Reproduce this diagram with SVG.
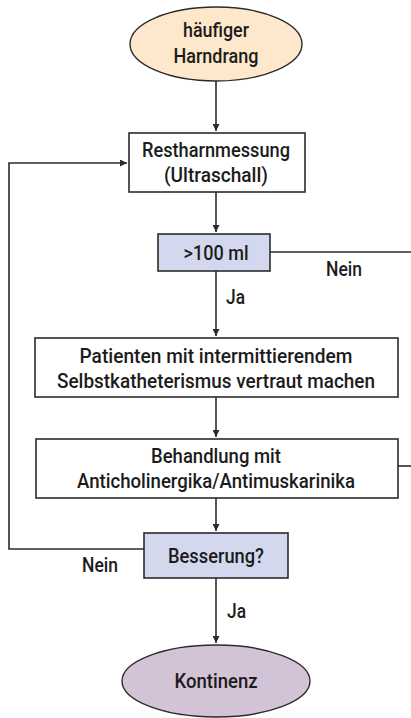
<svg xmlns="http://www.w3.org/2000/svg" width="411" height="718" viewBox="0 0 411 718">
<defs>
<style>
.box{fill:#fff;stroke:#2b2b2b;stroke-width:1.6}
.dec{fill:#d4d8ef;stroke:#2b2b2b;stroke-width:1.6}
.start{fill:#fde8cb;stroke:#2b2b2b;stroke-width:1.4}
.end{fill:#d3c3d6;stroke:#2b2b2b;stroke-width:1.4}
.ln{fill:none;stroke:#2b2b2b;stroke-width:1.6}
text{font-family:Roboto,"Liberation Sans",sans-serif;font-weight:500;font-size:20.5px;fill:#1c1c1c;text-anchor:middle}
.lbl{text-anchor:start}
</style>
<marker id="ah" viewBox="0 0 10 10" refX="10" refY="5" markerWidth="7" markerHeight="7" markerUnits="userSpaceOnUse" orient="auto">
<path d="M0,0 L10,5 L0,10 z" fill="#2b2b2b"/>
</marker>
</defs>
<g id="connectors">
<path class="ln" d="M216,81 V131" marker-end="url(#ah)"/>
<path class="ln" d="M216,192 V232" marker-end="url(#ah)"/>
<path class="ln" d="M270,252 H411"/>
<path class="ln" d="M216,271 V336" marker-end="url(#ah)"/>
<path class="ln" d="M216,397 V437" marker-end="url(#ah)"/>
<path class="ln" d="M398,466 H411"/>
<path class="ln" d="M216,498 V531" marker-end="url(#ah)"/>
<path class="ln" d="M144,549 H9 V163 H127" marker-end="url(#ah)"/>
<path class="ln" d="M216,578 V643" marker-end="url(#ah)"/>
<text class="lbl" x="326" y="276" textLength="36" lengthAdjust="spacingAndGlyphs">Nein</text>
<text class="lbl" x="226" y="304" textLength="19" lengthAdjust="spacingAndGlyphs">Ja</text>
<text class="lbl" x="82" y="572" textLength="36" lengthAdjust="spacingAndGlyphs">Nein</text>
<text class="lbl" x="227" y="618" textLength="19" lengthAdjust="spacingAndGlyphs">Ja</text>
</g>
<g id="start">
<ellipse class="start" cx="216" cy="44" rx="86" ry="37"/>
<text x="216" y="37" textLength="66" lengthAdjust="spacingAndGlyphs">häufiger</text>
<text x="216" y="63" textLength="85" lengthAdjust="spacingAndGlyphs">Harndrang</text>
</g>
<g id="restharn">
<rect class="box" x="129" y="133" width="176" height="59"/>
<text x="216" y="157" textLength="148" lengthAdjust="spacingAndGlyphs">Restharnmessung</text>
<text x="216" y="182" textLength="104" lengthAdjust="spacingAndGlyphs">(Ultraschall)</text>
</g>
<g id="dec100">
<rect class="dec" x="158" y="234" width="112" height="37"/>
<text x="216" y="260" textLength="65" lengthAdjust="spacingAndGlyphs">&gt;100 ml</text>
</g>
<g id="patienten">
<rect class="box" x="35" y="338" width="363" height="59"/>
<text x="216" y="363" textLength="273" lengthAdjust="spacingAndGlyphs">Patienten mit intermittierendem</text>
<text x="216" y="388" textLength="318" lengthAdjust="spacingAndGlyphs">Selbstkatheterismus vertraut machen</text>
</g>
<g id="behandlung">
<rect class="box" x="36" y="439" width="362" height="59"/>
<text x="216" y="463" textLength="130" lengthAdjust="spacingAndGlyphs">Behandlung mit</text>
<text x="216" y="488" textLength="278" lengthAdjust="spacingAndGlyphs">Anticholinergika/Antimuskarinika</text>
</g>
<g id="besserung">
<rect class="dec" x="144" y="533" width="144" height="45"/>
<text x="216" y="563" textLength="96" lengthAdjust="spacingAndGlyphs">Besserung?</text>
</g>
<g id="kontinenz">
<ellipse class="end" cx="216" cy="681" rx="94" ry="36"/>
<text x="216" y="688" textLength="83" lengthAdjust="spacingAndGlyphs">Kontinenz</text>
</g>
</svg>
